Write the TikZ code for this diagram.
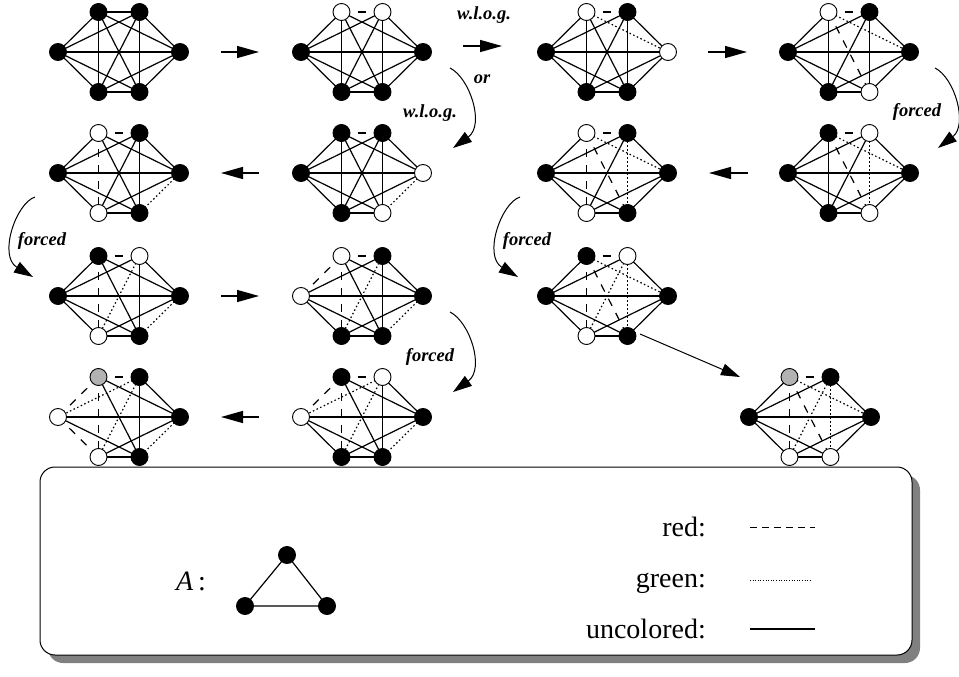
\documentclass[tikz,border=0pt]{standalone}
\usepackage{fontspec}
\setmainfont{Liberation Serif}
\usetikzlibrary{arrows.meta,calc}
\pgfdeclarelayer{bg}
\pgfdeclarelayer{edges}
\pgfsetlayers{bg,edges,main}
\pgfkeys{/kg/.cd,ab/.initial=eS,al/.initial=eS,ar/.initial=eS,ac/.initial=eS,ad/.initial=eS,
 bl/.initial=eS,br/.initial=eS,bc/.initial=eS,bd/.initial=eS,lr/.initial=eS,lc/.initial=eS,
 ld/.initial=eS,rc/.initial=eS,rd/.initial=eS,cd/.initial=eS}
\newcommand\kgraph[9]{%
 \node[#3] (#1a) at ($(#2)+(-20.5,-40)$) {};
 \node[#4] (#1b) at ($(#2)+(20.5,-40)$) {};
 \node[#5] (#1l) at ($(#2)+(-61,0)$) {};
 \node[#6] (#1r) at ($(#2)+(61,0)$) {};
 \node[#7] (#1c) at ($(#2)+(-20.5,40)$) {};
 \node[#8] (#1d) at ($(#2)+(20.5,40)$) {};
 \pgfkeys{/kg/.cd,ab=eS,al=eS,ar=eS,ac=eS,ad=eS,bl=eS,br=eS,bc=eS,bd=eS,lr=eS,lc=eS,ld=eS,rc=eS,rd=eS,cd=eS,#9}%
 \begin{pgfonlayer}{edges}
 \foreach \u/\v in {a/b,a/l,a/r,a/c,a/d,b/l,b/r,b/c,b/d,l/r,l/c,l/d,r/c,r/d,c/d}{%
   \pgfkeysgetvalue{/kg/\u\v}\kgst
   \edef\kgtmp{\noexpand\draw[\kgst] (#1\u.center) -- (#1\v.center);}\kgtmp}
 \end{pgfonlayer}}
\begin{document}
\begin{tikzpicture}[x=1pt,y=-1pt,
  vtx/.style={circle,draw,line width=0.9pt,minimum size=17pt,inner sep=0pt},
  kB/.style={vtx,fill=black},
  kW/.style={vtx,fill=white},
  kG/.style={vtx,fill=black!30},
  eS/.style={line width=1.2pt},
  eD/.style={line width=1.2pt,dash pattern=on 8pt off 8pt},
  eT/.style={line width=1.2pt,dash pattern=on 1.5pt off 2.5pt},
  harrow/.style={line width=1.4pt,-{Triangle[length=22pt,width=12pt]}},
  carrow/.style={line width=1pt,-{Triangle[length=19pt,width=12pt]}},
  lbl/.style={font=\fontsize{18.5}{20}\selectfont\bfseries\itshape,inner sep=0pt},
  leg/.style={font=\fontsize{28}{30}\selectfont,inner sep=0pt}
  ]
\useasboundingbox (0,0) rectangle (959,677);

\kgraph{g1}{119,52}{kB}{kB}{kB}{kB}{kB}{kB}{}
\kgraph{g2}{362,52}{kW}{kW}{kB}{kB}{kB}{kB}{ab=eD}
\kgraph{g3}{607,52}{kW}{kB}{kB}{kW}{kB}{kB}{ab=eD,ar=eT}
\kgraph{g4}{849,52}{kW}{kB}{kB}{kB}{kB}{kW}{ab=eD,ar=eT,ad=eD}
\kgraph{g5}{119,173}{kW}{kB}{kB}{kB}{kW}{kB}{ab=eD,ac=eD,rd=eT}
\kgraph{g6}{362,173}{kB}{kB}{kB}{kW}{kB}{kW}{ab=eD,rd=eT}
\kgraph{g7}{607,173}{kW}{kB}{kB}{kB}{kW}{kB}{ab=eD,ac=eD,ar=eT,ad=eD,bd=eT}
\kgraph{g8}{849,173}{kB}{kW}{kB}{kB}{kB}{kW}{ab=eD,ar=eT,ad=eD,bd=eT}
\kgraph{g9}{119,296}{kB}{kW}{kB}{kB}{kW}{kB}{ab=eD,ac=eD,bc=eT,rd=eT}
\kgraph{g10}{362,296}{kW}{kB}{kW}{kB}{kB}{kB}{ab=eD,al=eD,ac=eD,bc=eT,rd=eT}
\kgraph{g11}{607,296}{kB}{kW}{kB}{kB}{kW}{kB}{ab=eD,ac=eD,ad=eD,ar=eT,bc=eT,bd=eT}
\kgraph{g12}{119,417}{kG}{kB}{kW}{kB}{kW}{kB}{ab=eD,al=eD,ac=eD,lc=eD,bl=eT,bc=eT,rd=eT}
\kgraph{g13}{362,417}{kB}{kW}{kW}{kB}{kB}{kB}{ab=eD,al=eD,ac=eD,bl=eT,bc=eT,rd=eT}
\kgraph{g14}{810,417}{kG}{kB}{kB}{kB}{kW}{kW}{ab=eD,ac=eD,ad=eD,ar=eT,bc=eT,bd=eT}

% straight arrows
\coordinate (s12) at (221,52);  \coordinate (t12) at (259,52);
\coordinate (s23) at (463,46);  \coordinate (t23) at (502,46);
\coordinate (s34) at (708,52);  \coordinate (t34) at (747,52);
\coordinate (s65) at (259,173); \coordinate (t65) at (221,173);
\coordinate (s87) at (748,173); \coordinate (t87) at (709,173);
\coordinate (s910) at (221,296); \coordinate (t910) at (259,296);
\coordinate (s1312) at (259,417); \coordinate (t1312) at (221,417);
\draw[harrow] (s12) -- (t12);
\draw[harrow] (s23) -- (t23);
\draw[harrow] (s34) -- (t34);
\draw[harrow] (s65) -- (t65);
\draw[harrow] (s87) -- (t87);
\draw[harrow] (s910) -- (t910);
\draw[harrow] (s1312) -- (t1312);
\node[lbl] (l23) at (484,15) {w.l.o.g.};

% curved arrows
\coordinate (ca0) at (450,68);  \coordinate (ca1) at (453,148);
\draw[carrow] (ca0) .. controls (470,78) and (485,125) .. (ca1);
\node[lbl] (lor) at (482,79) {or};
\node[lbl] (lw2) at (430,113) {w.l.o.g.};

\coordinate (cb0) at (935,68);  \coordinate (cb1) at (938,148);
\draw[carrow] (cb0) .. controls (955,78) and (968,125) .. (cb1);
\node[lbl] (lfb) at (917,112) {forced};

\coordinate (cc0) at (35,197);  \coordinate (cc1) at (33,277);
\draw[carrow] (cc0) .. controls (16,203) and (-2,256) .. (cc1);
\node[lbl] (lfc) at (42,241) {forced};

\coordinate (cd0) at (520,197);  \coordinate (cd1) at (518,277);
\draw[carrow] (cd0) .. controls (501,203) and (483,256) .. (cd1);
\node[lbl] (lfd) at (527,241) {forced};

\coordinate (ce0) at (450,312);  \coordinate (ce1) at (453,392);
\draw[carrow] (ce0) .. controls (470,322) and (485,369) .. (ce1);
\node[lbl] (lfe) at (430,357) {forced};

\coordinate (cf0) at (640,334);  \coordinate (cf1) at (740,377);
\draw[carrow] (cf0) -- (cf1);

% legend
\begin{pgfonlayer}{bg}
\fill[black!50, rounded corners=15pt] (48,475) rectangle (920,663);
\draw[line width=1pt, fill=white, rounded corners=15pt] (40,467) rectangle (912,655);
\end{pgfonlayer}
\node[kB] (ta) at (287,555) {};
\node[kB] (tb) at (245,606) {};
\node[kB] (tc) at (327,606) {};
\begin{pgfonlayer}{edges}
\draw[eS] (ta.center) -- (tb.center) -- (tc.center) -- (ta.center);
\end{pgfonlayer}
\node[leg,anchor=base east] (lA) at (206,590) {\textit{A}\,:};
\node[leg,anchor=base east] (lred) at (706,536) {red:};
\node[leg,anchor=base east] (lgreen) at (706,587) {green:};
\node[leg,anchor=base east] (lunc) at (706,638) {uncolored:};
\coordinate (r1) at (750,527); \coordinate (r2) at (815,527);
\coordinate (g1p) at (750,580); \coordinate (g2p) at (811,580);
\coordinate (u1) at (750,629); \coordinate (u2) at (815,629);
\draw[line width=1pt,dash pattern=on 7pt off 5pt] (r1) -- (r2);
\draw[line width=1pt,dash pattern=on 1pt off 1.6pt] (g1p) -- (g2p);
\draw[line width=1.2pt] (u1) -- (u2);
\end{tikzpicture}
\end{document}
